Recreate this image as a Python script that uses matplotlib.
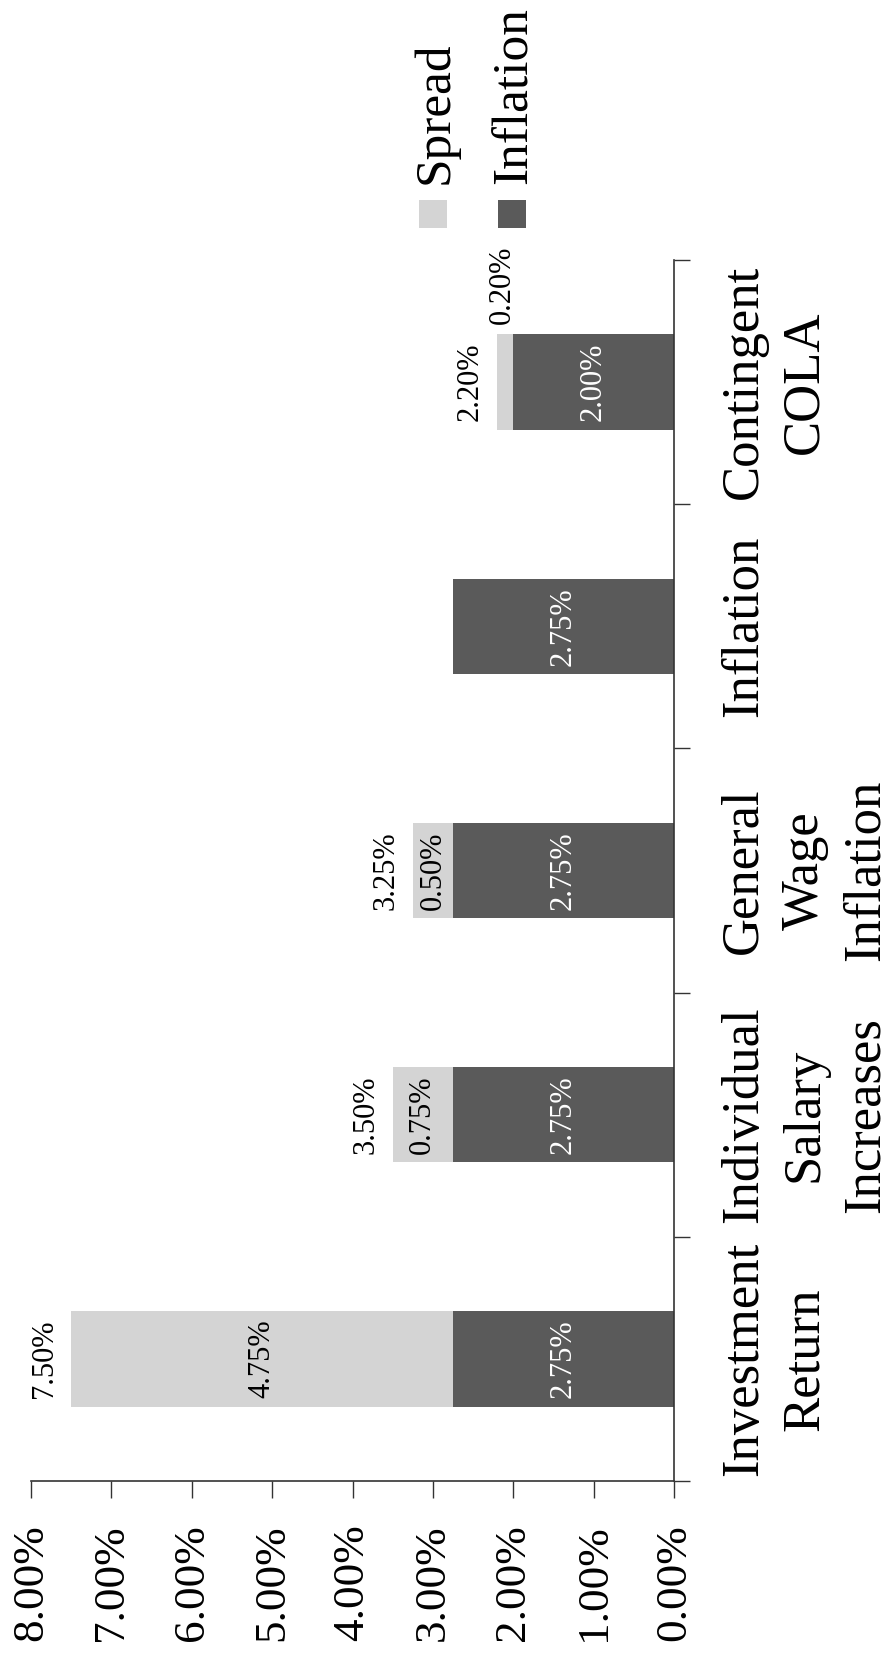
import matplotlib
matplotlib.use("Agg")
import matplotlib.pyplot as plt
from matplotlib.patches import Rectangle
import numpy as np

plt.rcParams['font.family'] = ['Liberation Serif', 'DejaVu Serif']

# ---- data ----
categories = ["Investment\nReturn", "Individual\nSalary\nIncreases",
              "General\nWage\nInflation", "Inflation", "Contingent\nCOLA"]
inflation = [2.75, 2.75, 2.75, 2.75, 2.00]
spread = [4.75, 0.75, 0.50, 0.00, 0.20]
value_ticks = [0, 1, 2, 3, 4, 5, 6, 7, 8]
value_tick_labels = ["0.00%", "1.00%", "2.00%", "3.00%", "4.00%",
                     "5.00%", "6.00%", "7.00%", "8.00%"]
legend_labels = ["Spread", "Inflation"]

# ---- style ----
W, H = 893, 1666
DARK = "#5a5a5a"
LIGHT = "#d4d4d4"
AXC = "#333333"

fig = plt.figure(figsize=(W / 100, H / 100), dpi=100)
fig.patch.set_facecolor("white")

def fx(px):
    return px / W

def fy(py):
    return 1 - py / H

ax = fig.add_axes([fx(31), fy(1481), fx(674) - fx(31), fy(260) - fy(1481)])

pos = np.arange(len(categories))
bh = 0.39
ax.barh(pos, inflation, height=bh, color=DARK, edgecolor="none", zorder=2)
ax.barh(pos, spread, left=inflation, height=bh, color=LIGHT, edgecolor="none", zorder=2)

ax.set_xlim(8, 0)
ax.set_ylim(-0.5, len(categories) - 0.5)

# spines
for s in ["left", "top"]:
    ax.spines[s].set_visible(False)
for s in ["right", "bottom"]:
    ax.spines[s].set_color(AXC)
    ax.spines[s].set_linewidth(1.2)

# value axis (bottom)
ax.set_xticks(value_ticks)
ax.set_xticklabels(value_tick_labels, rotation=90, fontsize=32.5,
                   ha="center", va="top")
ax.tick_params(axis="x", direction="out", length=12, width=1.0,
               color=AXC, pad=19)

# category axis (right)
ax.yaxis.set_ticks_position("right")
ax.set_yticks(pos)
ax.set_yticks(np.arange(-0.5, len(categories), 1.0), minor=True)
ax.set_yticklabels(categories, rotation=90, fontsize=38, ha="left",
                   va="center", multialignment="center", linespacing=1.35)
ax.tick_params(axis="y", which="major", length=0, pad=33,
               left=False, right=True, labelleft=False, labelright=True)
ax.tick_params(axis="y", which="minor", length=11.5, width=1.0, color=AXC,
               direction="out", left=False, right=True)

# data labels
for i in range(len(categories)):
    inf = inflation[i]
    sp = spread[i]
    ax.text(inf / 2, pos[i], f"{inf:.2f}%", rotation=90, ha="center",
            va="center", fontsize=22, color="white", zorder=3)
    if sp > 0:
        if sp >= 0.4:
            ax.text(inf + sp / 2, pos[i], f"{sp:.2f}%", rotation=90,
                    ha="center", va="center", fontsize=22, color="black", zorder=3)
        else:
            ax.annotate(f"{sp:.2f}%", (inf + sp / 2, pos[i]), xytext=(-2, 70),
                        textcoords="offset points", rotation=90, ha="center",
                        va="center", fontsize=22, color="black", zorder=3)
        total = inf + sp
        ax.annotate(f"{total:.2f}%", (total, pos[i]), xytext=(-9, 0),
                    textcoords="offset points", rotation=90, ha="right",
                    va="center", fontsize=22, color="black", zorder=3)

# legend (rotated, drawn manually)
legend_colors = [LIGHT, DARK]
legend_baselines = [448, 527]
for lab, col, bx in zip(legend_labels, legend_colors, legend_baselines):
    fig.patches.append(Rectangle((fx(bx - 29), fy(228)), fx(28), 28 / H,
                                 transform=fig.transFigure, facecolor=col,
                                 edgecolor="none"))
    fig.text(fx(bx), fy(184), lab, rotation=90, rotation_mode="anchor",
             ha="left", va="baseline", fontsize=37, color="black")

fig.savefig("out.png", dpi=100, facecolor="white")
